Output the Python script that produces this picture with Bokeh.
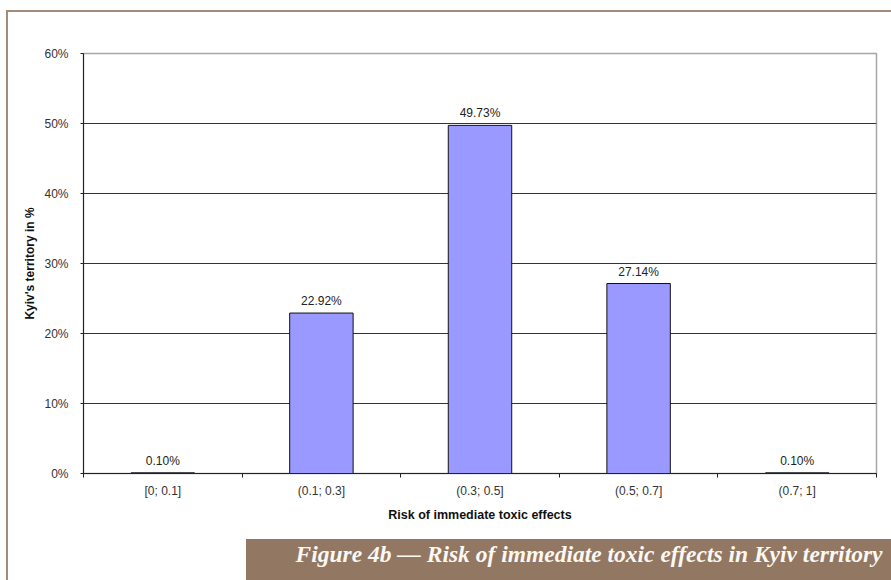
from bokeh.plotting import figure
from bokeh.models import Range1d, FixedTicker, ColumnDataSource, Title
from bokeh.core.properties import value
from bokeh.embed import file_html
from bokeh.resources import INLINE

categories = ["[0; 0.1]", "(0.1; 0.3]", "(0.3; 0.5]", "(0.5; 0.7]", "(0.7; 1]"]
shares = [0.10, 22.92, 49.73, 27.14, 0.10]
y_ticks = [0, 10, 20, 30, 40, 50, 60]
x_title = "Risk of immediate toxic effects"
y_title = "Kyiv's territory in %"
caption = "Figure 4b \u2014 Risk of immediate toxic effects in Kyiv territory"

FONT = "Liberation Sans"
W, H = 891, 580
BROWN_LINE = "#a38b78"
BROWN_BOX = "#927762"

xs = [i + 0.5 for i in range(len(categories))]
src = ColumnDataSource(dict(x=xs, v=shares, lab=[f"{v:.2f}%" for v in shares]))

p = figure(width=W, height=H, output_backend="svg", toolbar_location=None,
           x_range=Range1d(0, len(categories)), y_range=Range1d(0, 60),
           min_border_left=83, min_border_right=15, min_border_top=53,
           min_border_bottom=107, background_fill_color="white",
           border_fill_color=None, outline_line_color="#a6a6a6",
           outline_line_width=1.5)

# page decoration: brown frame lines and caption band (CSS behind the canvas)
p.styles = {
    "background-color": "white",
    "background-image": (f"linear-gradient({BROWN_LINE},{BROWN_LINE}), "
                         f"linear-gradient({BROWN_LINE},{BROWN_LINE}), "
                         f"linear-gradient({BROWN_BOX},{BROWN_BOX})"),
    "background-position": "7px 10px, 6px 10px, 246px 539px",
    "background-size": "884px 2px, 2px 570px, 645px 41px",
    "background-repeat": "no-repeat",
}

p.vbar(x="x", top="v", width=0.4, source=src, fill_color="#9999ff",
       line_color="#111111", line_width=1)
p.text(x="x", y="v", text="lab", source=src, y_offset=-12,
       text_align="center", text_baseline="alphabetic",
       text_font=value(FONT), text_font_size="12px", text_color="#222222")

# x axis
xa = p.xaxis[0]
xa.ticker = FixedTicker(ticks=xs, minor_ticks=list(range(len(categories) + 1)))
xa.major_label_overrides = {x: c for x, c in zip(xs, categories)}
xa.major_tick_line_color = None
xa.major_tick_out = 0
xa.major_tick_in = 0
xa.minor_tick_out = 4
xa.minor_tick_in = 0
xa.minor_tick_line_color = "#222222"
xa.axis_line_color = "#222222"
xa.major_label_standoff = 6
xa.major_label_text_font = FONT
xa.major_label_text_font_size = "12px"
xa.major_label_text_color = "#333333"
xa.axis_label = x_title
xa.axis_label_text_font = FONT
xa.axis_label_text_font_size = "12.5px"
xa.axis_label_text_font_style = "bold"
xa.axis_label_text_color = "#111111"
xa.axis_label_standoff = 7

# y axis
ya = p.yaxis[0]
ya.ticker = FixedTicker(ticks=y_ticks, minor_ticks=[])
ya.major_label_overrides = {t: f"{t}%" for t in y_ticks}
ya.major_tick_out = 3
ya.major_tick_in = 0
ya.major_tick_line_color = "#222222"
ya.axis_line_color = "#222222"
ya.major_label_standoff = 12
ya.major_label_text_font = FONT
ya.major_label_text_font_size = "12px"
ya.major_label_text_color = "#333333"
ya.axis_label = y_title
ya.axis_label_text_font = FONT
ya.axis_label_text_font_size = "12px"
ya.axis_label_text_font_style = "bold"
ya.axis_label_text_color = "#111111"
ya.axis_label_standoff = 4

p.xgrid.visible = False
p.ygrid.ticker = FixedTicker(ticks=y_ticks[1:-1])
p.ygrid.grid_line_color = "#333333"
p.ygrid.grid_line_width = 1

cap_title = Title(text=caption, align="left", offset=212, standoff=28,
                  text_font="Liberation Serif", text_font_style="bold italic",
                  text_font_size="23.5px", text_color="#fbf7f2",
                  background_fill_color=None)
p.add_layout(cap_title, "below")

open("out.html", "w").write(file_html(p, INLINE))
